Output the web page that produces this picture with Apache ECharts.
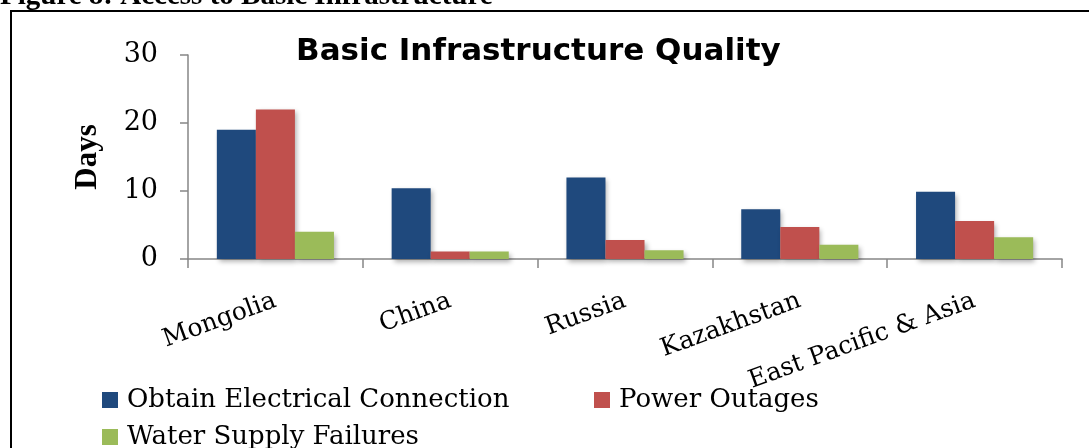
<!DOCTYPE html>
<html>
<head>
<meta charset="utf-8">
<script src="https://cdn.jsdelivr.net/npm/echarts@6/dist/echarts.min.js"></script>
<style>
  html, body { margin: 0; padding: 0; background: #fff; }
  #chart { width: 1089px; height: 448px; }
</style>
</head>
<body>
<div id="chart"></div>
<script>
// Days needed / lost per year, by economy
const categories = ['Mongolia', 'China', 'Russia', 'Kazakhstan', 'East Pacific & Asia'];
const electricalConnection = [19, 10.4, 12, 7.3, 9.9];
const powerOutages = [22, 1.1, 2.8, 4.7, 5.6];
const waterFailures = [4, 1.1, 1.3, 2.1, 3.2];
const seriesNames = ['Obtain Electrical Connection', 'Power Outages', 'Water Supply Failures'];
const yTicks = [0, 10, 20, 30];

const colors = ['#1F497D', '#C0504D', '#9BBB59'];
const serif = '"DejaVu Serif", serif';
const axisGray = '#868686';

const chart = echarts.init(document.getElementById('chart'), null, { renderer: 'canvas' });

const barShadow = {
  shadowColor: 'rgba(0,0,0,0.32)',
  shadowBlur: 5,
  shadowOffsetX: 2,
  shadowOffsetY: 3
};

function legendAt(name, left, top) {
  return {
    data: [name],
    left: left,
    top: top,
    orient: 'horizontal',
    icon: 'rect',
    itemWidth: 16,
    itemHeight: 16,
    selectedMode: false,
    textStyle: {
      fontFamily: serif,
      fontSize: 26,
      color: '#000',
      padding: [0, 0, 0, 4]
    }
  };
}

const option = {
  animation: false,
  backgroundColor: '#fff',
  color: colors,
  title: {
    text: 'Basic Infrastructure Quality',
    left: 291,
    top: 31,
    textStyle: {
      fontFamily: '"DejaVu Sans", sans-serif',
      fontWeight: 'bold',
      fontSize: 31,
      color: '#000'
    }
  },
  legend: [
    legendAt(seriesNames[0], 97, 382),
    legendAt(seriesNames[1], 589, 382),
    legendAt(seriesNames[2], 97, 419)
  ],
  grid: {
    left: 188,
    right: 27,
    top: 55,
    bottom: 189,
    containLabel: false
  },
  xAxis: {
    type: 'category',
    data: categories,
    boundaryGap: true,
    axisLine: { show: true, lineStyle: { color: axisGray, width: 1.5 } },
    axisTick: { show: true, alignWithLabel: false, length: 9, lineStyle: { color: axisGray, width: 1.5 } },
    axisLabel: {
      rotate: 20,
      margin: 41,
      interval: 0,
      fontFamily: serif,
      fontSize: 25,
      color: '#000'
    },
    splitLine: { show: false }
  },
  yAxis: {
    type: 'value',
    min: yTicks[0],
    max: yTicks[yTicks.length - 1],
    interval: 10,
    name: 'Days',
    nameLocation: 'middle',
    nameGap: 85,
    nameRotate: 90,
    nameTextStyle: {
      fontFamily: '"Liberation Serif", serif',
      fontWeight: 'bold',
      fontSize: 31,
      color: '#000'
    },
    axisLine: { show: true, lineStyle: { color: axisGray, width: 1.5 } },
    axisTick: { show: true, inside: false, length: 8, lineStyle: { color: axisGray, width: 1.5 } },
    axisLabel: {
      margin: 30,
      fontFamily: serif,
      fontSize: 27,
      color: '#000'
    },
    splitLine: { show: false }
  },
  series: [
    {
      name: seriesNames[0],
      type: 'bar',
      data: electricalConnection,
      barGap: '0%',
      barCategoryGap: '33%',
      itemStyle: Object.assign({ color: colors[0] }, barShadow)
    },
    {
      name: seriesNames[1],
      type: 'bar',
      data: powerOutages,
      barGap: '0%',
      barCategoryGap: '33%',
      itemStyle: Object.assign({ color: colors[1] }, barShadow)
    },
    {
      name: seriesNames[2],
      type: 'bar',
      data: waterFailures,
      barGap: '0%',
      barCategoryGap: '33%',
      itemStyle: Object.assign({ color: colors[2] }, barShadow)
    }
  ],
  graphic: [
    {
      type: 'text',
      left: 0,
      top: -18,
      silent: true,
      style: {
        text: 'Figure 8: Access to Basic Infrastructure',
        font: 'bold 29px "Liberation Serif", serif',
        fill: '#000'
      }
    },
    {
      type: 'rect',
      silent: true,
      z: -1,
      shape: { x: 11, y: 11, width: 1200, height: 600 },
      style: { fill: 'none', stroke: '#000', lineWidth: 2 }
    }
  ]
};

chart.setOption(option);
</script>
</body>
</html>
